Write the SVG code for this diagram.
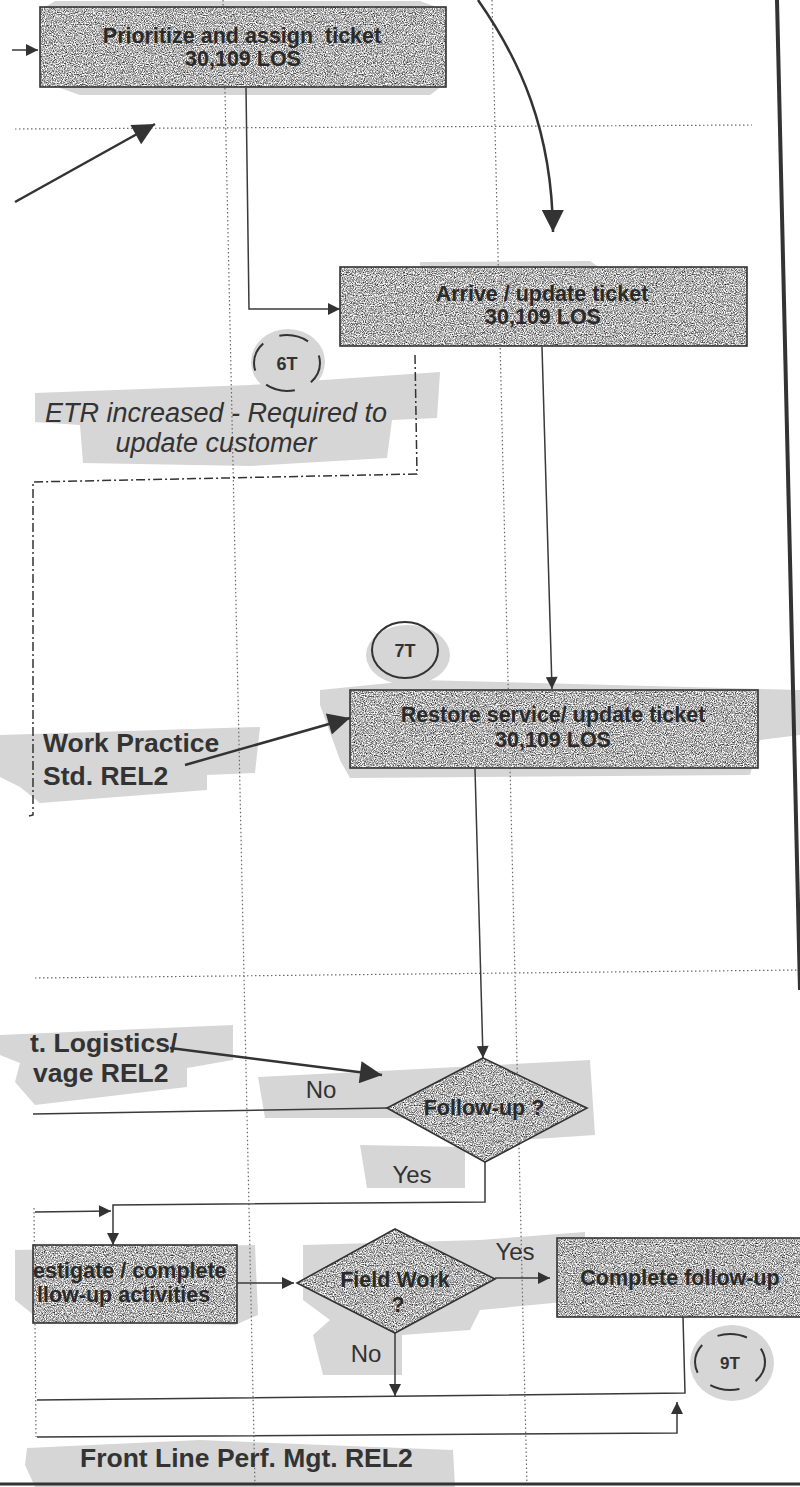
<svg xmlns="http://www.w3.org/2000/svg" width="800" height="1487" viewBox="0 0 800 1487">
  <style>
    .hl { fill: #d6d6d6; stroke: none; }
    .grid { stroke: #6a6a6a; stroke-width: 1.2; stroke-dasharray: 1.5 2.5; fill: none; }
    .frame { stroke: #333; fill: none; }
    .shape { fill: #ababab; filter: url(#grain); }
    .edge { fill: none; stroke: #333; stroke-width: 1.6; }
    .btxt { font-family: "Liberation Sans", Arial, sans-serif; font-weight: bold; font-size: 21.5px; fill: #2a2a2a; text-anchor: middle; }
    .lbl { font-family: "Liberation Sans", Arial, sans-serif; font-size: 24px; fill: #333; text-anchor: middle; }
    .big { font-family: "Liberation Sans", Arial, sans-serif; font-weight: bold; font-size: 26.5px; fill: #333; }
    .note { font-family: "Liberation Sans", Arial, sans-serif; font-style: italic; font-size: 27px; fill: #333; text-anchor: middle; }
    .tag { font-family: "Liberation Sans", Arial, sans-serif; font-weight: bold; fill: #333; text-anchor: middle; }
    .conn { fill: none; stroke: #3a3a3a; stroke-width: 1.5; }
    .thick { fill: none; stroke: #333; stroke-width: 2.5; }
    .dashdot { fill: none; stroke: #333; stroke-width: 1.5; stroke-dasharray: 9 3 2 3; }
  </style>
  <defs>
    <!-- speckled grey fill for process boxes and decisions -->
    <filter id="grain" x="0" y="0" width="1" height="1" color-interpolation-filters="sRGB">
      <feTurbulence type="fractalNoise" baseFrequency="0.9" numOctaves="2" seed="7" result="noise"/>
      <feColorMatrix in="noise" type="matrix" values="1.7 0 0 0 -0.15  1.7 0 0 0 -0.15  1.7 0 0 0 -0.15  0 0 0 0 1" result="gray"/>
      <feComposite in="gray" in2="SourceGraphic" operator="in"/>
    </filter>
    <marker id="arr" viewBox="0 0 10 10" refX="10" refY="5" markerWidth="15" markerHeight="12" markerUnits="userSpaceOnUse" orient="auto">
      <path d="M0,0 L10,5 L0,10 z" fill="#333"/>
    </marker>
    <marker id="arrBig" viewBox="0 0 10 10" refX="10" refY="5" markerWidth="24" markerHeight="22" markerUnits="userSpaceOnUse" orient="auto">
      <path d="M0,0 L10,5 L0,10 z" fill="#333"/>
    </marker>
  </defs>

  <!-- highlighter marks -->
  <g id="highlights">
    <polygon class="hl" points="55,1 420,1 445,10 445,84 430,95 80,95 60,88 40,10"/>
    <polygon class="hl" points="420,262 590,261 600,268 420,268"/>
    <ellipse class="hl" cx="288" cy="362" rx="37" ry="33"/>
    <polygon class="hl" points="35,393 250,385 440,372 437,418 392,420 387,458 250,466 83,463 80,425 35,422"/>
    <ellipse class="hl" cx="408" cy="655" rx="42" ry="30"/>
    <polygon class="hl" points="320,690 420,680 800,690 800,735 760,740 750,775 350,778 340,760 320,705"/>
    <polygon class="hl" points="0,735 260,727 255,773 207,775 207,790 40,803 20,787 0,777"/>
    <polygon class="hl" points="0,1035 233,1025 233,1060 187,1068 187,1087 35,1105 15,1082 20,1063 0,1055"/>
    <polygon class="hl" points="258,1077 400,1070 590,1060 595,1135 520,1140 400,1118 265,1118"/>
    <polygon class="hl" points="360,1145 465,1147 465,1188 367,1188"/>
    <polygon class="hl" points="15,1250 255,1245 258,1315 235,1325 40,1320 15,1300"/>
    <polygon class="hl" points="303,1245 480,1240 585,1232 585,1300 480,1310 470,1330 402,1335 402,1375 323,1375 313,1335 330,1320 303,1300"/>
    <ellipse class="hl" cx="732" cy="1363" rx="42" ry="38"/>
    <polygon class="hl" points="27,1448 200,1440 453,1450 455,1487 35,1487 25,1465"/>
  </g>

  <!-- lane grid and page frame -->
  <g id="grid">
    <line class="grid" x1="223" y1="0" x2="255" y2="1487"/>
    <line class="grid" x1="492" y1="0" x2="527" y2="1487"/>
    <line class="grid" x1="15" y1="129" x2="752" y2="125"/>
    <line class="grid" x1="35" y1="978" x2="800" y2="970"/>
    <line class="grid" x1="34" y1="1208" x2="36" y2="1437"/>
    <line class="frame" x1="777" y1="0" x2="800" y2="990" stroke-width="4"/>
    <line class="frame" x1="0" y1="1484" x2="800" y2="1484" stroke-width="3"/>
  </g>

  <!-- connectors -->
  <g id="connectors">
    <path class="conn" d="M12,50 L38,50" marker-end="url(#arr)"/>
    <path class="thick" d="M478,0 C520,60 552,130 553,232" marker-end="url(#arrBig)"/>
    <path class="thick" d="M15,202 L155,124" marker-end="url(#arrBig)"/>
    <path class="conn" d="M246,88 L249,309 L340,309" marker-end="url(#arr)"/>
    <path class="dashdot" d="M415,355 L417,474 L33,482 L33,815 L29,816"/>
    <path class="conn" d="M542,347 L552,689" marker-end="url(#arr)"/>
    <path class="thick" d="M185,765 L350,718" marker-end="url(#arrBig)"/>
    <path class="conn" d="M475,769 L483,1058" marker-end="url(#arr)"/>
    <path class="thick" d="M170,1048 L382,1075" marker-end="url(#arrBig)"/>
    <path class="conn" d="M387,1108 L33,1114"/>
    <path class="conn" d="M485,1162 L485,1202 L113,1205 L113,1245" marker-end="url(#arr)"/>
    <path class="conn" d="M35,1212 L111,1211" marker-end="url(#arr)"/>
    <path class="conn" d="M237,1283 L294,1283" marker-end="url(#arr)"/>
    <path class="conn" d="M495,1278 L550,1278" marker-end="url(#arr)"/>
    <path class="conn" d="M395,1333 L395,1396" marker-end="url(#arr)"/>
    <path class="conn" d="M683,1317 L685,1393 L37,1400"/>
    <path class="conn" d="M37,1437 L677,1433 L677,1402" marker-end="url(#arr)"/>
  </g>

  <g id="prioritize">
    <rect class="shape" x="40" y="7" width="406" height="80"/>
    <rect class="edge" x="40" y="7" width="406" height="80"/>
    <text class="btxt" x="242" y="43" style="white-space:pre">Prioritize and assign  ticket</text>
    <text class="btxt" x="243" y="66">30,109 LOS</text>
  </g>

  <g id="arrive">
    <rect class="shape" x="340" y="267" width="407" height="79"/>
    <rect class="edge" x="340" y="267" width="407" height="79"/>
    <text class="btxt" x="542" y="301">Arrive / update ticket</text>
    <text class="btxt" x="543" y="324">30,109 LOS</text>
  </g>

  <g id="tag-6t">
    <ellipse cx="287" cy="363" rx="33" ry="28" fill="none" stroke="#333" stroke-width="2" stroke-dasharray="30 18" stroke-dashoffset="8"/>
    <text class="tag" x="287" y="370" font-size="18">6T</text>
  </g>

  <g id="etr-note">
    <text class="note" x="216" y="422">ETR increased - Required to</text>
    <text class="note" x="216" y="452">update customer</text>
  </g>

  <g id="tag-7t">
    <ellipse cx="405" cy="650" rx="33" ry="28" fill="none" stroke="#333" stroke-width="2"/>
    <text class="tag" x="405" y="657" font-size="18">7T</text>
  </g>

  <g id="restore">
    <rect class="shape" x="350" y="690" width="408" height="78"/>
    <rect class="edge" x="350" y="690" width="408" height="78"/>
    <text class="btxt" x="553" y="722">Restore service/ update ticket</text>
    <text class="btxt" x="553" y="747">30,109 LOS</text>
  </g>

  <g id="work-practice">
    <text class="big" x="43" y="752">Work Practice</text>
    <text class="big" x="43" y="785">Std. REL2</text>
  </g>

  <g id="logistics">
    <text class="big" x="30" y="1052" font-size="26">t. Logistics/</text>
    <text class="big" x="33" y="1082" font-size="26">vage REL2</text>
  </g>

  <g id="follow-up">
    <polygon class="shape" points="483,1058 587,1108 485,1162 387,1108"/>
    <polygon class="edge" points="483,1058 587,1108 485,1162 387,1108"/>
    <text class="btxt" x="484" y="1115">Follow-up ?</text>
  </g>
  <text class="lbl" x="321" y="1098">No</text>
  <text class="lbl" x="412" y="1183">Yes</text>

  <g id="investigate">
    <rect class="shape" x="33" y="1245" width="204" height="78"/>
    <rect class="edge" x="33" y="1245" width="204" height="78"/>
    <text class="btxt" x="33" y="1278" style="text-anchor:start">estigate / complete</text>
    <text class="btxt" x="37" y="1302" style="text-anchor:start">llow-up activities</text>
  </g>

  <g id="field-work">
    <polygon class="shape" points="395,1229 495,1279 395,1333 297,1283"/>
    <polygon class="edge" points="395,1229 495,1279 395,1333 297,1283"/>
    <text class="btxt" x="395" y="1287">Field Work</text>
    <text class="btxt" x="398" y="1312">?</text>
  </g>
  <text class="lbl" x="515" y="1260">Yes</text>
  <text class="lbl" x="366" y="1362">No</text>

  <g id="complete">
    <rect class="shape" x="557" y="1238" width="245" height="79"/>
    <rect class="edge" x="557" y="1238" width="245" height="79"/>
    <text class="btxt" x="680" y="1285">Complete follow-up</text>
  </g>

  <g id="tag-9t">
    <ellipse cx="730" cy="1362" rx="35" ry="28" fill="none" stroke="#333" stroke-width="2" stroke-dasharray="30 18" stroke-dashoffset="8"/>
    <text class="tag" x="730" y="1369" font-size="17">9T</text>
  </g>

  <g id="front-line">
    <text class="big" x="80" y="1467">Front Line Perf. Mgt. REL2</text>
  </g>
</svg>
